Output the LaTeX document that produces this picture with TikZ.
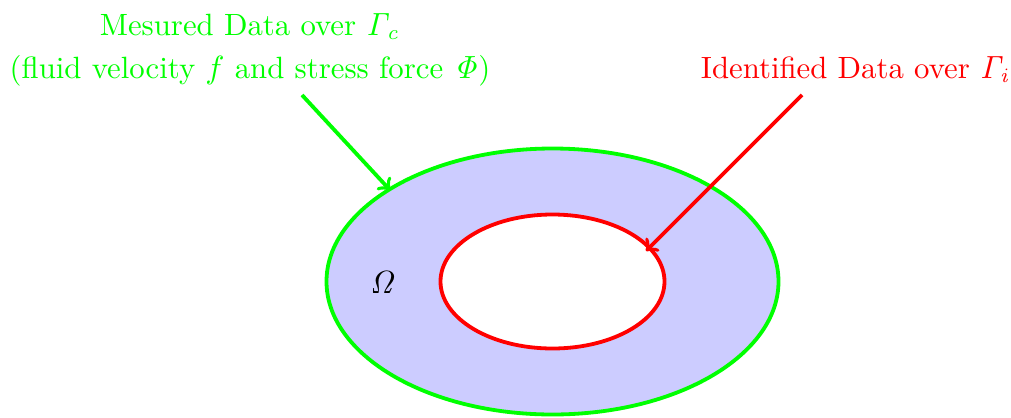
\documentclass[tikz,border=0pt]{standalone}
\begin{document}
\begin{tikzpicture}[x=0.3413pt,y=-0.3413pt,
  greenc/.style={green, line width=1.3pt},
  redc/.style={red, line width=1.3pt},
  lbl/.style={inner sep=0pt, anchor=base, font=\fontsize{10.5}{13}\selectfont}]
\useasboundingbox (0,0) rectangle (1011,417);
\coordinate (c) at (552.5,281.5);
\fill[blue!20] (c) ellipse [x radius=226, y radius=133];
\draw[greenc] (c) ellipse [x radius=226, y radius=133];
\fill[white] (c) ellipse [x radius=112, y radius=67];
\draw[redc] (c) ellipse [x radius=112, y radius=67];
\node[lbl, green] (t1) at (250,35) {Mesured Data over $\mathit{\Gamma_c}$};
\node[lbl, green] (t2) at (250,78) {(fluid velocity $f$ and stress force $\mathit{\Phi}$)};
\node[lbl, red] (t3) at (856,78) {Identified Data over $\mathit{\Gamma_i}$};
\node[lbl] (om) at (383,293) {$\mathit{\Omega}$};
\coordinate (gs) at (302,95);
\coordinate (ge) at (390,190);
\coordinate (rs) at (802,95);
\coordinate (re) at (646,251);
\draw[greenc,->] (gs) -- (ge);
\draw[redc,->] (rs) -- (re);
\end{tikzpicture}
\end{document}
